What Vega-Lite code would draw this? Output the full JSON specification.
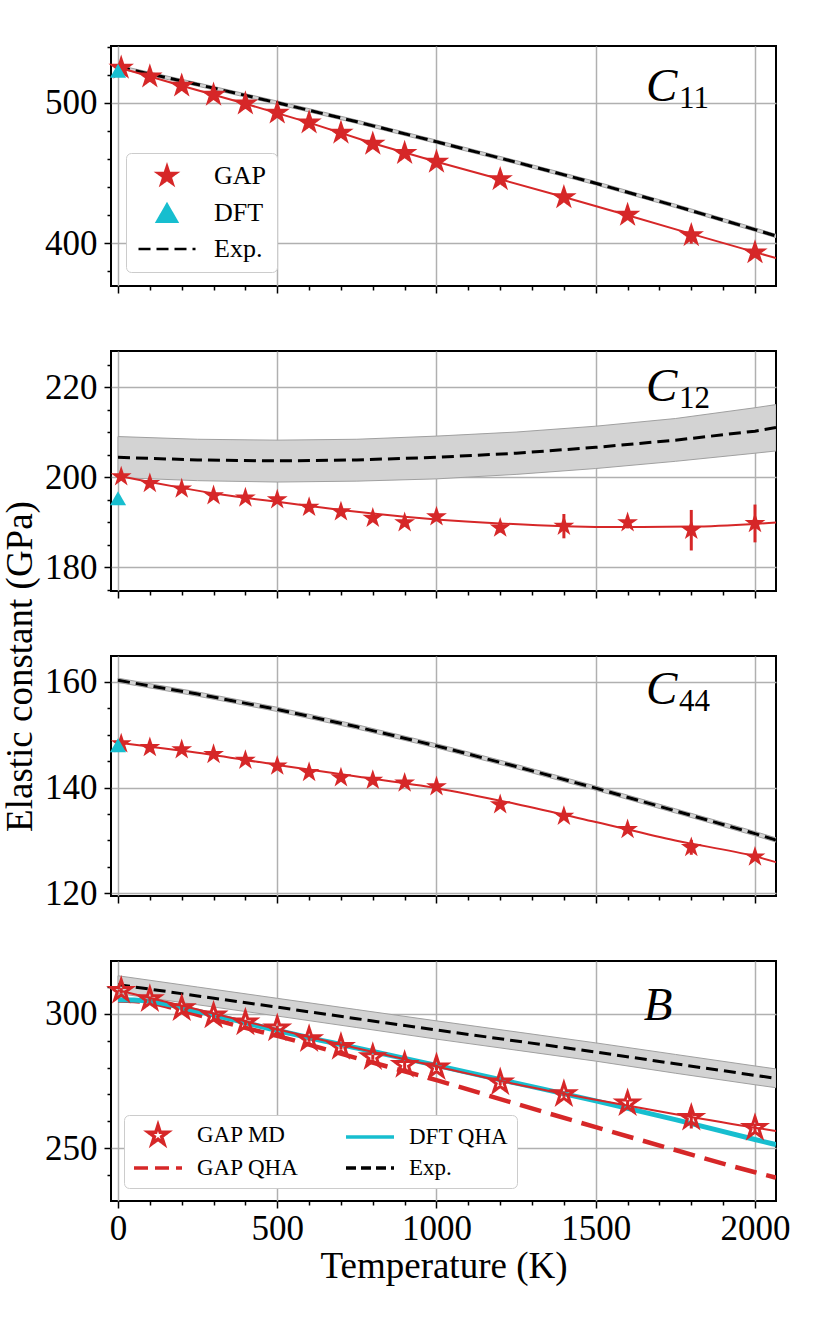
{
  "$schema": "https://vega.github.io/schema/vega-lite/v6.json",
  "background": "white",
  "padding": {"left": 0, "top": 45, "right": 30, "bottom": 20},
  "bounds": "flush",
  "spacing": 65,
  "resolve": {
    "scale": {"shape": "independent", "fill": "independent", "stroke": "independent", "strokeDash": "independent"},
    "legend": {"shape": "independent", "fill": "independent", "stroke": "independent", "strokeDash": "independent"}
  },
  "config": {
    "font": "Liberation Serif",
    "view": {"stroke": "black", "strokeWidth": 2},
    "axis": {
      "domain": false,
      "gridColor": "#b0b0b0",
      "gridWidth": 1.5,
      "gridOpacity": 1,
      "tickColor": "black",
      "tickWidth": 1.5,
      "labelFont": "Liberation Serif",
      "labelFontSize": 35,
      "labelColor": "black",
      "labelFlush": false,
      "labelOverlap": false,
      "titleFont": "Liberation Serif",
      "titleFontSize": 37,
      "titleFontWeight": "normal",
      "titleColor": "black"
    },
    "legend": {
      "labelFont": "Liberation Serif",
      "labelColor": "black",
      "fillColor": "white",
      "strokeColor": "#cccccc",
      "cornerRadius": 5
    }
  },
  "datasets": {
    "c11_gap": [
      {"T": 10, "v": 525.0, "lo": 523.8, "hi": 526.2, "s": "GAP"},
      {"T": 100, "v": 518.8, "lo": 517.6, "hi": 520.0, "s": "GAP"},
      {"T": 200, "v": 512.3, "lo": 511.1, "hi": 513.5, "s": "GAP"},
      {"T": 300, "v": 505.8, "lo": 504.6, "hi": 507.0, "s": "GAP"},
      {"T": 400, "v": 499.5, "lo": 498.3, "hi": 500.7, "s": "GAP"},
      {"T": 500, "v": 493.0, "lo": 491.8, "hi": 494.2, "s": "GAP"},
      {"T": 600, "v": 486.0, "lo": 484.8, "hi": 487.2, "s": "GAP"},
      {"T": 700, "v": 478.7, "lo": 477.5, "hi": 479.9, "s": "GAP"},
      {"T": 800, "v": 470.8, "lo": 469.4, "hi": 472.2, "s": "GAP"},
      {"T": 900, "v": 464.2, "lo": 462.8, "hi": 465.6, "s": "GAP"},
      {"T": 1000, "v": 457.9, "lo": 456.5, "hi": 459.3, "s": "GAP"},
      {"T": 1200, "v": 445.5, "lo": 444.0, "hi": 447.0, "s": "GAP"},
      {"T": 1400, "v": 432.6, "lo": 431.0, "hi": 434.2, "s": "GAP"},
      {"T": 1600, "v": 420.0, "lo": 418.0, "hi": 422.0, "s": "GAP"},
      {"T": 1800, "v": 405.5, "lo": 399.5, "hi": 411.5, "s": "GAP"},
      {"T": 2000, "v": 393.2, "lo": 391.2, "hi": 395.2, "s": "GAP"}
    ],
    "c11_fit": [
      {"T": 0, "v": 525.5}, {"T": 200, "v": 512.3}, {"T": 400, "v": 499.5},
      {"T": 600, "v": 486.0}, {"T": 800, "v": 471.3}, {"T": 1000, "v": 458.0},
      {"T": 1200, "v": 445.5}, {"T": 1400, "v": 432.8}, {"T": 1600, "v": 419.8},
      {"T": 1800, "v": 406.5}, {"T": 2000, "v": 393.5}, {"T": 2066, "v": 389.2}
    ],
    "c11_exp": [
      {"T": 0, "v": 525.8, "lo": 524.6, "hi": 527.0},
      {"T": 250, "v": 513.2, "lo": 512.0, "hi": 514.4},
      {"T": 500, "v": 500.2, "lo": 499.0, "hi": 501.4},
      {"T": 750, "v": 486.6, "lo": 485.4, "hi": 487.8},
      {"T": 1000, "v": 472.3, "lo": 471.1, "hi": 473.5},
      {"T": 1250, "v": 457.7, "lo": 456.5, "hi": 458.9},
      {"T": 1500, "v": 442.7, "lo": 441.5, "hi": 443.9},
      {"T": 1750, "v": 426.5, "lo": 425.3, "hi": 427.7},
      {"T": 2000, "v": 409.6, "lo": 408.4, "hi": 410.8},
      {"T": 2066, "v": 405.0, "lo": 403.8, "hi": 406.2}
    ],
    "c11_dft": [{"T": 0, "v": 523.0}],
    "c11_lab": [{"T": 1658, "v": 501.4, "main": "C", "sub": "11"}],
    "c12_gap": [
      {"T": 10, "v": 200.1, "lo": 199.5, "hi": 200.7, "s": "GAP"},
      {"T": 100, "v": 198.6, "lo": 198.0, "hi": 199.2, "s": "GAP"},
      {"T": 200, "v": 197.4, "lo": 196.8, "hi": 198.0, "s": "GAP"},
      {"T": 300, "v": 195.9, "lo": 195.3, "hi": 196.5, "s": "GAP"},
      {"T": 400, "v": 195.4, "lo": 194.8, "hi": 196.0, "s": "GAP"},
      {"T": 500, "v": 195.0, "lo": 194.2, "hi": 195.8, "s": "GAP"},
      {"T": 600, "v": 193.3, "lo": 192.5, "hi": 194.1, "s": "GAP"},
      {"T": 700, "v": 192.3, "lo": 191.5, "hi": 193.1, "s": "GAP"},
      {"T": 800, "v": 190.9, "lo": 190.1, "hi": 191.7, "s": "GAP"},
      {"T": 900, "v": 189.9, "lo": 189.1, "hi": 190.7, "s": "GAP"},
      {"T": 1000, "v": 191.2, "lo": 190.2, "hi": 192.2, "s": "GAP"},
      {"T": 1200, "v": 188.7, "lo": 187.7, "hi": 189.7, "s": "GAP"},
      {"T": 1400, "v": 189.1, "lo": 186.4, "hi": 191.8, "s": "GAP"},
      {"T": 1600, "v": 189.9, "lo": 188.6, "hi": 191.2, "s": "GAP"},
      {"T": 1800, "v": 188.2, "lo": 183.7, "hi": 192.7, "s": "GAP"},
      {"T": 2000, "v": 189.7, "lo": 185.5, "hi": 193.9, "s": "GAP"}
    ],
    "c12_fit": [
      {"T": 0, "v": 200.3}, {"T": 100, "v": 198.9}, {"T": 200, "v": 197.6},
      {"T": 300, "v": 196.4}, {"T": 400, "v": 195.4}, {"T": 500, "v": 194.5},
      {"T": 600, "v": 193.6}, {"T": 700, "v": 192.7}, {"T": 800, "v": 191.9},
      {"T": 900, "v": 191.2}, {"T": 1000, "v": 190.6}, {"T": 1200, "v": 189.7},
      {"T": 1400, "v": 189.1}, {"T": 1600, "v": 188.9}, {"T": 1800, "v": 189.0},
      {"T": 2000, "v": 189.6}, {"T": 2066, "v": 189.9}
    ],
    "c12_exp": [
      {"T": 0, "v": 204.4, "lo": 199.9, "hi": 209.0},
      {"T": 250, "v": 203.8, "lo": 199.2, "hi": 208.4},
      {"T": 500, "v": 203.6, "lo": 198.9, "hi": 208.2},
      {"T": 750, "v": 203.8, "lo": 199.1, "hi": 208.4},
      {"T": 1000, "v": 204.4, "lo": 199.6, "hi": 209.1},
      {"T": 1250, "v": 205.3, "lo": 200.6, "hi": 210.0},
      {"T": 1500, "v": 206.6, "lo": 201.9, "hi": 211.3},
      {"T": 1750, "v": 208.2, "lo": 203.5, "hi": 213.0},
      {"T": 2000, "v": 210.2, "lo": 205.3, "hi": 215.4},
      {"T": 2066, "v": 211.0, "lo": 205.8, "hi": 216.1}
    ],
    "c12_dft": [{"T": 0, "v": 195.3}],
    "c12_lab": [{"T": 1658, "v": 216.9, "main": "C", "sub": "12"}],
    "c44_gap": [
      {"T": 10, "v": 148.3, "lo": 147.8, "hi": 148.8, "s": "GAP"},
      {"T": 100, "v": 147.6, "lo": 147.1, "hi": 148.1, "s": "GAP"},
      {"T": 200, "v": 147.2, "lo": 146.7, "hi": 147.7, "s": "GAP"},
      {"T": 300, "v": 146.3, "lo": 145.8, "hi": 146.8, "s": "GAP"},
      {"T": 400, "v": 145.2, "lo": 144.7, "hi": 145.7, "s": "GAP"},
      {"T": 500, "v": 144.1, "lo": 143.6, "hi": 144.6, "s": "GAP"},
      {"T": 600, "v": 142.9, "lo": 142.4, "hi": 143.4, "s": "GAP"},
      {"T": 700, "v": 141.9, "lo": 141.4, "hi": 142.4, "s": "GAP"},
      {"T": 800, "v": 141.4, "lo": 140.9, "hi": 141.9, "s": "GAP"},
      {"T": 900, "v": 140.9, "lo": 140.2, "hi": 141.6, "s": "GAP"},
      {"T": 1000, "v": 140.2, "lo": 139.6, "hi": 140.8, "s": "GAP"},
      {"T": 1200, "v": 136.8, "lo": 136.2, "hi": 137.4, "s": "GAP"},
      {"T": 1400, "v": 134.6, "lo": 134.0, "hi": 135.2, "s": "GAP"},
      {"T": 1600, "v": 132.1, "lo": 131.5, "hi": 132.7, "s": "GAP"},
      {"T": 1800, "v": 128.7, "lo": 127.3, "hi": 130.1, "s": "GAP"},
      {"T": 2000, "v": 126.9, "lo": 126.2, "hi": 127.6, "s": "GAP"}
    ],
    "c44_fit": [
      {"T": 0, "v": 148.5}, {"T": 250, "v": 146.6}, {"T": 500, "v": 144.3},
      {"T": 750, "v": 142.1}, {"T": 1000, "v": 139.9}, {"T": 1250, "v": 136.9},
      {"T": 1500, "v": 133.5}, {"T": 1750, "v": 130.0}, {"T": 2000, "v": 127.0},
      {"T": 2066, "v": 125.9}
    ],
    "c44_exp": [
      {"T": 0, "v": 160.3, "lo": 159.9, "hi": 160.7},
      {"T": 250, "v": 157.7, "lo": 157.3, "hi": 158.1},
      {"T": 500, "v": 154.8, "lo": 154.4, "hi": 155.2},
      {"T": 750, "v": 151.5, "lo": 151.1, "hi": 151.9},
      {"T": 1000, "v": 147.9, "lo": 147.5, "hi": 148.3},
      {"T": 1250, "v": 144.0, "lo": 143.6, "hi": 144.4},
      {"T": 1500, "v": 139.9, "lo": 139.5, "hi": 140.3},
      {"T": 1750, "v": 135.6, "lo": 135.2, "hi": 136.0},
      {"T": 2000, "v": 131.3, "lo": 130.9, "hi": 131.7},
      {"T": 2066, "v": 130.1, "lo": 129.7, "hi": 130.5}
    ],
    "c44_dft": [{"T": 0, "v": 148.0}],
    "c44_lab": [{"T": 1658, "v": 155.8, "main": "C", "sub": "44"}],
    "b_md": [
      {"T": 10, "v": 308.6, "lo": 307.6, "hi": 309.6, "s": "GAP MD"},
      {"T": 100, "v": 305.5, "lo": 304.5, "hi": 306.5, "s": "GAP MD"},
      {"T": 200, "v": 302.1, "lo": 301.1, "hi": 303.1, "s": "GAP MD"},
      {"T": 300, "v": 299.4, "lo": 298.4, "hi": 300.4, "s": "GAP MD"},
      {"T": 400, "v": 296.8, "lo": 295.8, "hi": 297.8, "s": "GAP MD"},
      {"T": 500, "v": 294.6, "lo": 293.6, "hi": 295.6, "s": "GAP MD"},
      {"T": 600, "v": 290.6, "lo": 289.6, "hi": 291.6, "s": "GAP MD"},
      {"T": 700, "v": 287.7, "lo": 286.7, "hi": 288.7, "s": "GAP MD"},
      {"T": 800, "v": 283.9, "lo": 282.9, "hi": 284.9, "s": "GAP MD"},
      {"T": 900, "v": 281.0, "lo": 279.5, "hi": 282.5, "s": "GAP MD"},
      {"T": 1000, "v": 280.1, "lo": 279.1, "hi": 281.1, "s": "GAP MD"},
      {"T": 1200, "v": 274.5, "lo": 273.5, "hi": 275.5, "s": "GAP MD"},
      {"T": 1400, "v": 270.1, "lo": 269.1, "hi": 271.1, "s": "GAP MD"},
      {"T": 1600, "v": 266.7, "lo": 265.5, "hi": 267.9, "s": "GAP MD"},
      {"T": 1800, "v": 261.3, "lo": 257.3, "hi": 265.3, "s": "GAP MD"},
      {"T": 2000, "v": 257.5, "lo": 256.0, "hi": 259.0, "s": "GAP MD"}
    ],
    "b_mdfit": [
      {"T": 0, "v": 308.8}, {"T": 250, "v": 301.6}, {"T": 500, "v": 294.3},
      {"T": 750, "v": 287.2}, {"T": 1000, "v": 280.4}, {"T": 1250, "v": 273.8},
      {"T": 1500, "v": 268.0}, {"T": 1750, "v": 262.6}, {"T": 2000, "v": 257.6},
      {"T": 2066, "v": 256.4}
    ],
    "b_dftqha": [
      {"T": 0, "v": 305.3}, {"T": 50, "v": 305.2}, {"T": 100, "v": 304.7},
      {"T": 150, "v": 303.7}, {"T": 200, "v": 302.4}, {"T": 300, "v": 299.6},
      {"T": 400, "v": 296.7}, {"T": 500, "v": 293.8}, {"T": 750, "v": 287.3},
      {"T": 1000, "v": 280.8}, {"T": 1250, "v": 274.2}, {"T": 1500, "v": 267.6},
      {"T": 1750, "v": 260.6}, {"T": 2000, "v": 253.2}, {"T": 2066, "v": 251.3}
    ],
    "b_gapqha": [
      {"T": 0, "v": 305.0}, {"T": 50, "v": 304.8}, {"T": 100, "v": 304.1},
      {"T": 150, "v": 302.9}, {"T": 200, "v": 301.3}, {"T": 300, "v": 298.0},
      {"T": 400, "v": 294.8}, {"T": 500, "v": 291.8}, {"T": 750, "v": 283.5},
      {"T": 1000, "v": 275.3}, {"T": 1250, "v": 266.5}, {"T": 1500, "v": 257.8},
      {"T": 1750, "v": 249.3}, {"T": 2000, "v": 241.0}, {"T": 2066, "v": 239.0}
    ],
    "b_exp": [
      {"T": 0, "v": 310.9, "lo": 307.6, "hi": 314.2},
      {"T": 250, "v": 306.7, "lo": 303.4, "hi": 310.0},
      {"T": 500, "v": 302.5, "lo": 299.2, "hi": 305.8},
      {"T": 750, "v": 298.2, "lo": 294.9, "hi": 301.6},
      {"T": 1000, "v": 294.0, "lo": 290.6, "hi": 297.4},
      {"T": 1250, "v": 289.9, "lo": 286.5, "hi": 293.3},
      {"T": 1500, "v": 285.8, "lo": 282.4, "hi": 289.2},
      {"T": 1750, "v": 281.4, "lo": 277.9, "hi": 284.9},
      {"T": 2000, "v": 277.1, "lo": 273.6, "hi": 280.6},
      {"T": 2066, "v": 276.0, "lo": 272.5, "hi": 279.5}
    ],
    "b_lab": [{"T": 1651, "v": 297.9, "main": "B", "sub": ""}]
  },
  "vconcat": [
    {
      "width": 665,
      "height": 240,
      "layer": [
        {
          "data": {"name": "c11_exp"},
          "mark": {"type": "area", "fill": "#d3d3d3", "stroke": "#a0a0a0", "strokeWidth": 1, "clip": true},
          "encoding": {
            "x": {"field": "T", "type": "quantitative", "scale": {"domain": [-22, 2066], "nice": false, "zero": false},
                  "axis": {"orient": "bottom", "values": [0, 500, 1000, 1500, 2000], "grid": true, "labels": false, "tickSize": 7, "title": null}},
            "y": {"field": "lo", "type": "quantitative", "scale": {"domain": [369.3, 540.7], "nice": false, "zero": false},
                  "axis": {"orient": "left", "values": [400, 500], "grid": true, "tickSize": 7, "labelPadding": 7, "format": "d", "title": null}},
            "y2": {"field": "hi"}
          }
        },
        {
          "data": {"name": "c11_exp"},
          "mark": {"type": "line", "color": "black", "strokeWidth": 3, "strokeDash": [12, 6], "clip": true},
          "encoding": {
            "x": {"field": "T", "type": "quantitative",
                  "axis": {"orient": "bottom", "values": [100, 200, 300, 400, 600, 700, 800, 900, 1100, 1200, 1300, 1400, 1600, 1700, 1800, 1900], "grid": false, "labels": false, "tickSize": 4, "title": null}},
            "y": {"field": "v", "type": "quantitative",
                  "axis": {"orient": "left", "values": [380, 420, 440, 460, 480, 520, 540], "grid": false, "labels": false, "tickSize": 4, "title": null}}
          }
        },
        {
          "data": {"name": "c11_fit"},
          "mark": {"type": "line", "color": "#d62728", "strokeWidth": 2, "clip": true},
          "encoding": {
            "x": {"field": "T", "type": "quantitative", "axis": null},
            "y": {"field": "v", "type": "quantitative", "axis": null}
          }
        },
        {
          "data": {"name": "c11_gap"},
          "mark": {"type": "rule", "color": "#d62728", "strokeWidth": 3},
          "encoding": {
            "x": {"field": "T", "type": "quantitative", "axis": null},
            "y": {"field": "lo", "type": "quantitative", "axis": null},
            "y2": {"field": "hi"}
          }
        },
        {
          "data": {"name": "c11_gap"},
          "mark": {"type": "point", "filled": true, "size": 480, "opacity": 1, "strokeWidth": 1.5},
          "encoding": {
            "x": {"field": "T", "type": "quantitative", "axis": null},
            "y": {"field": "v", "type": "quantitative", "axis": null},
            "shape": {"field": "s", "type": "nominal",
              "scale": {"domain": ["GAP", "DFT", "Exp."], "range": ["M0,-1L0.225,-0.309L0.951,-0.309L0.363,0.118L0.588,0.809L0,0.382L-0.588,0.809L-0.363,0.118L-0.951,-0.309L-0.225,-0.309Z", "triangle-up", "M-2.85,0H2.85"]},
              "legend": {"title": null, "orient": "none", "legendX": 15, "legendY": 107, "padding": 10, "labelFontSize": 26, "labelOffset": 34, "symbolOffset": 18, "rowPadding": 9, "symbolSize": 400, "symbolStrokeWidth": 2.5}},
            "fill": {"field": "s", "type": "nominal",
              "scale": {"domain": ["GAP", "DFT", "Exp."], "range": ["#d62728", "#17becf", "transparent"]},
              "legend": {"title": null, "orient": "none", "legendX": 15, "legendY": 107, "padding": 10, "labelFontSize": 26, "labelOffset": 34, "symbolOffset": 18, "rowPadding": 9, "symbolSize": 400, "symbolStrokeWidth": 2.5}},
            "stroke": {"field": "s", "type": "nominal",
              "scale": {"domain": ["GAP", "DFT", "Exp."], "range": ["#d62728", "#17becf", "black"]},
              "legend": {"title": null, "orient": "none", "legendX": 15, "legendY": 107, "padding": 10, "labelFontSize": 26, "labelOffset": 34, "symbolOffset": 18, "rowPadding": 9, "symbolSize": 400, "symbolStrokeWidth": 2.5}},
            "strokeDash": {"field": "s", "type": "nominal",
              "scale": {"domain": ["GAP", "DFT", "Exp."], "range": [[1, 0], [1, 0], [12, 6]]},
              "legend": {"title": null, "orient": "none", "legendX": 15, "legendY": 107, "padding": 10, "labelFontSize": 26, "labelOffset": 34, "symbolOffset": 18, "rowPadding": 9, "symbolSize": 400, "symbolStrokeWidth": 2.5}}
          }
        },
        {
          "data": {"name": "c11_dft"},
          "mark": {"type": "point", "shape": "triangle-up", "filled": true, "color": "#17becf", "size": 260, "opacity": 1},
          "encoding": {
            "x": {"field": "T", "type": "quantitative", "axis": null},
            "y": {"field": "v", "type": "quantitative", "axis": null}
          }
        },
        {
          "data": {"name": "c11_lab"},
          "mark": {"type": "text", "align": "left", "baseline": "alphabetic", "fontSize": 47, "fontStyle": "italic", "font": "Liberation Serif", "color": "black"},
          "encoding": {
            "x": {"field": "T", "type": "quantitative", "axis": null},
            "y": {"field": "v", "type": "quantitative", "axis": null},
            "text": {"field": "main"}
          }
        },
        {
          "data": {"name": "c11_lab"},
          "mark": {"type": "text", "align": "left", "baseline": "alphabetic", "fontSize": 31, "font": "Liberation Serif", "color": "black", "dx": 33, "dy": 7},
          "encoding": {
            "x": {"field": "T", "type": "quantitative", "axis": null},
            "y": {"field": "v", "type": "quantitative", "axis": null},
            "text": {"field": "sub"}
          }
        }
      ],
      "resolve": {"axis": {"x": "independent", "y": "independent"}}
    },
    {
      "width": 665,
      "height": 240,
      "layer": [
        {
          "data": {"name": "c12_exp"},
          "mark": {"type": "area", "fill": "#d3d3d3", "stroke": "#a0a0a0", "strokeWidth": 1, "clip": true},
          "encoding": {
            "x": {"field": "T", "type": "quantitative", "scale": {"domain": [-22, 2066], "nice": false, "zero": false},
                  "axis": {"orient": "bottom", "values": [0, 500, 1000, 1500, 2000], "grid": true, "labels": false, "tickSize": 7, "title": null}},
            "y": {"field": "lo", "type": "quantitative", "scale": {"domain": [174.7, 228], "nice": false, "zero": false},
                  "axis": {"orient": "left", "values": [180, 200, 220], "grid": true, "tickSize": 7, "labelPadding": 7, "format": "d",
                           "title": "Elastic constant (GPa)", "titleY": 315, "titlePadding": 5}},
            "y2": {"field": "hi"}
          }
        },
        {
          "data": {"name": "c12_exp"},
          "mark": {"type": "line", "color": "black", "strokeWidth": 3, "strokeDash": [12, 6], "clip": true},
          "encoding": {
            "x": {"field": "T", "type": "quantitative",
                  "axis": {"orient": "bottom", "values": [100, 200, 300, 400, 600, 700, 800, 900, 1100, 1200, 1300, 1400, 1600, 1700, 1800, 1900], "grid": false, "labels": false, "tickSize": 4, "title": null}},
            "y": {"field": "v", "type": "quantitative",
                  "axis": {"orient": "left", "values": [175, 185, 190, 195, 205, 210, 215, 225], "grid": false, "labels": false, "tickSize": 4, "title": null}}
          }
        },
        {
          "data": {"name": "c12_fit"},
          "mark": {"type": "line", "color": "#d62728", "strokeWidth": 2, "clip": true, "interpolate": "monotone"},
          "encoding": {
            "x": {"field": "T", "type": "quantitative", "axis": null},
            "y": {"field": "v", "type": "quantitative", "axis": null}
          }
        },
        {
          "data": {"name": "c12_gap"},
          "mark": {"type": "rule", "color": "#d62728", "strokeWidth": 3},
          "encoding": {
            "x": {"field": "T", "type": "quantitative", "axis": null},
            "y": {"field": "lo", "type": "quantitative", "axis": null},
            "y2": {"field": "hi"}
          }
        },
        {
          "data": {"name": "c12_gap"},
          "mark": {"type": "point", "filled": true, "size": 480, "opacity": 1, "color": "#d62728", "strokeWidth": 1.5,
                   "shape": "M0,-1L0.225,-0.309L0.951,-0.309L0.363,0.118L0.588,0.809L0,0.382L-0.588,0.809L-0.363,0.118L-0.951,-0.309L-0.225,-0.309Z"},
          "encoding": {
            "x": {"field": "T", "type": "quantitative", "axis": null},
            "y": {"field": "v", "type": "quantitative", "axis": null}
          }
        },
        {
          "data": {"name": "c12_dft"},
          "mark": {"type": "point", "shape": "triangle-up", "filled": true, "color": "#17becf", "size": 260, "opacity": 1},
          "encoding": {
            "x": {"field": "T", "type": "quantitative", "axis": null},
            "y": {"field": "v", "type": "quantitative", "axis": null}
          }
        },
        {
          "data": {"name": "c12_lab"},
          "mark": {"type": "text", "align": "left", "baseline": "alphabetic", "fontSize": 47, "fontStyle": "italic", "font": "Liberation Serif", "color": "black"},
          "encoding": {
            "x": {"field": "T", "type": "quantitative", "axis": null},
            "y": {"field": "v", "type": "quantitative", "axis": null},
            "text": {"field": "main"}
          }
        },
        {
          "data": {"name": "c12_lab"},
          "mark": {"type": "text", "align": "left", "baseline": "alphabetic", "fontSize": 31, "font": "Liberation Serif", "color": "black", "dx": 33, "dy": 7},
          "encoding": {
            "x": {"field": "T", "type": "quantitative", "axis": null},
            "y": {"field": "v", "type": "quantitative", "axis": null},
            "text": {"field": "sub"}
          }
        }
      ],
      "resolve": {"axis": {"x": "independent", "y": "independent"}}
    },
    {
      "width": 665,
      "height": 240,
      "layer": [
        {
          "data": {"name": "c44_exp"},
          "mark": {"type": "area", "fill": "#d3d3d3", "stroke": "#a0a0a0", "strokeWidth": 1, "clip": true},
          "encoding": {
            "x": {"field": "T", "type": "quantitative", "scale": {"domain": [-22, 2066], "nice": false, "zero": false},
                  "axis": {"orient": "bottom", "values": [0, 500, 1000, 1500, 2000], "grid": true, "labels": false, "tickSize": 7, "title": null}},
            "y": {"field": "lo", "type": "quantitative", "scale": {"domain": [119.5, 164.9], "nice": false, "zero": false},
                  "axis": {"orient": "left", "values": [120, 140, 160], "grid": true, "tickSize": 7, "labelPadding": 7, "format": "d", "title": null}},
            "y2": {"field": "hi"}
          }
        },
        {
          "data": {"name": "c44_exp"},
          "mark": {"type": "line", "color": "black", "strokeWidth": 3, "strokeDash": [12, 6], "clip": true},
          "encoding": {
            "x": {"field": "T", "type": "quantitative",
                  "axis": {"orient": "bottom", "values": [100, 200, 300, 400, 600, 700, 800, 900, 1100, 1200, 1300, 1400, 1600, 1700, 1800, 1900], "grid": false, "labels": false, "tickSize": 4, "title": null}},
            "y": {"field": "v", "type": "quantitative",
                  "axis": {"orient": "left", "values": [125, 130, 135, 145, 150, 155], "grid": false, "labels": false, "tickSize": 4, "title": null}}
          }
        },
        {
          "data": {"name": "c44_fit"},
          "mark": {"type": "line", "color": "#d62728", "strokeWidth": 2, "clip": true, "interpolate": "monotone"},
          "encoding": {
            "x": {"field": "T", "type": "quantitative", "axis": null},
            "y": {"field": "v", "type": "quantitative", "axis": null}
          }
        },
        {
          "data": {"name": "c44_gap"},
          "mark": {"type": "rule", "color": "#d62728", "strokeWidth": 3},
          "encoding": {
            "x": {"field": "T", "type": "quantitative", "axis": null},
            "y": {"field": "lo", "type": "quantitative", "axis": null},
            "y2": {"field": "hi"}
          }
        },
        {
          "data": {"name": "c44_gap"},
          "mark": {"type": "point", "filled": true, "size": 480, "opacity": 1, "color": "#d62728", "strokeWidth": 1.5,
                   "shape": "M0,-1L0.225,-0.309L0.951,-0.309L0.363,0.118L0.588,0.809L0,0.382L-0.588,0.809L-0.363,0.118L-0.951,-0.309L-0.225,-0.309Z"},
          "encoding": {
            "x": {"field": "T", "type": "quantitative", "axis": null},
            "y": {"field": "v", "type": "quantitative", "axis": null}
          }
        },
        {
          "data": {"name": "c44_dft"},
          "mark": {"type": "point", "shape": "triangle-up", "filled": true, "color": "#17becf", "size": 260, "opacity": 1},
          "encoding": {
            "x": {"field": "T", "type": "quantitative", "axis": null},
            "y": {"field": "v", "type": "quantitative", "axis": null}
          }
        },
        {
          "data": {"name": "c44_lab"},
          "mark": {"type": "text", "align": "left", "baseline": "alphabetic", "fontSize": 47, "fontStyle": "italic", "font": "Liberation Serif", "color": "black"},
          "encoding": {
            "x": {"field": "T", "type": "quantitative", "axis": null},
            "y": {"field": "v", "type": "quantitative", "axis": null},
            "text": {"field": "main"}
          }
        },
        {
          "data": {"name": "c44_lab"},
          "mark": {"type": "text", "align": "left", "baseline": "alphabetic", "fontSize": 31, "font": "Liberation Serif", "color": "black", "dx": 33, "dy": 7},
          "encoding": {
            "x": {"field": "T", "type": "quantitative", "axis": null},
            "y": {"field": "v", "type": "quantitative", "axis": null},
            "text": {"field": "sub"}
          }
        }
      ],
      "resolve": {"axis": {"x": "independent", "y": "independent"}}
    },
    {
      "width": 665,
      "height": 240,
      "layer": [
        {
          "data": {"name": "b_exp"},
          "mark": {"type": "area", "fill": "#d3d3d3", "stroke": "#a0a0a0", "strokeWidth": 1, "clip": true},
          "encoding": {
            "x": {"field": "T", "type": "quantitative", "scale": {"domain": [-22, 2066], "nice": false, "zero": false},
                  "axis": {"orient": "bottom", "values": [0, 500, 1000, 1500, 2000], "grid": true, "labels": true, "tickSize": 7, "labelPadding": 3, "format": "d",
                           "title": "Temperature (K)", "titlePadding": 2}},
            "y": {"field": "lo", "type": "quantitative", "scale": {"domain": [230.3, 319.7], "nice": false, "zero": false},
                  "axis": {"orient": "left", "values": [250, 300], "grid": true, "tickSize": 7, "labelPadding": 7, "format": "d", "title": null}},
            "y2": {"field": "hi"}
          }
        },
        {
          "data": {"name": "b_exp"},
          "mark": {"type": "line", "color": "black", "strokeWidth": 3, "strokeDash": [12, 6], "clip": true},
          "encoding": {
            "x": {"field": "T", "type": "quantitative",
                  "axis": {"orient": "bottom", "values": [100, 200, 300, 400, 600, 700, 800, 900, 1100, 1200, 1300, 1400, 1600, 1700, 1800, 1900], "grid": false, "labels": false, "tickSize": 4, "title": null}},
            "y": {"field": "v", "type": "quantitative",
                  "axis": {"orient": "left", "values": [240, 260, 270, 280, 290, 310], "grid": false, "labels": false, "tickSize": 4, "title": null}}
          }
        },
        {
          "data": {"name": "b_gapqha"},
          "mark": {"type": "line", "color": "#d62728", "strokeWidth": 4.5, "strokeDash": [22, 10], "clip": true, "interpolate": "monotone"},
          "encoding": {
            "x": {"field": "T", "type": "quantitative", "axis": null},
            "y": {"field": "v", "type": "quantitative", "axis": null}
          }
        },
        {
          "data": {"name": "b_dftqha"},
          "mark": {"type": "line", "color": "#17becf", "strokeWidth": 5, "clip": true, "interpolate": "monotone"},
          "encoding": {
            "x": {"field": "T", "type": "quantitative", "axis": null},
            "y": {"field": "v", "type": "quantitative", "axis": null}
          }
        },
        {
          "data": {"name": "b_mdfit"},
          "mark": {"type": "line", "color": "#d62728", "strokeWidth": 2, "clip": true, "interpolate": "monotone"},
          "encoding": {
            "x": {"field": "T", "type": "quantitative", "axis": null},
            "y": {"field": "v", "type": "quantitative", "axis": null}
          }
        },
        {
          "data": {"name": "b_md"},
          "mark": {"type": "rule", "color": "#d62728", "strokeWidth": 3},
          "encoding": {
            "x": {"field": "T", "type": "quantitative", "axis": null},
            "y": {"field": "lo", "type": "quantitative", "axis": null},
            "y2": {"field": "hi"}
          }
        },
        {
          "data": {"name": "b_md"},
          "mark": {"type": "point", "filled": true, "size": 480, "opacity": 1, "strokeWidth": 3},
          "encoding": {
            "x": {"field": "T", "type": "quantitative", "axis": null},
            "y": {"field": "v", "type": "quantitative", "axis": null},
            "shape": {"field": "s", "type": "nominal",
              "scale": {"domain": ["GAP MD", "GAP QHA", "DFT QHA", "Exp."], "range": ["M0,-1L0.225,-0.309L0.951,-0.309L0.363,0.118L0.588,0.809L0,0.382L-0.588,0.809L-0.363,0.118L-0.951,-0.309L-0.225,-0.309Z", "M-2.4,0H2.4", "M-2.4,0H2.4", "M-2.4,0H2.4"]},
              "legend": {"title": null, "orient": "none", "legendX": 13, "legendY": 154, "padding": 8, "labelFontSize": 23, "labelOffset": 27, "symbolOffset": 14, "rowPadding": 5, "columns": 2, "columnPadding": 40, "symbolSize": 400, "symbolStrokeWidth": 3.5}},
            "fill": {"field": "s", "type": "nominal",
              "scale": {"domain": ["GAP MD", "GAP QHA", "DFT QHA", "Exp."], "range": ["transparent", "transparent", "transparent", "transparent"]},
              "legend": {"title": null, "orient": "none", "legendX": 13, "legendY": 154, "padding": 8, "labelFontSize": 23, "labelOffset": 27, "symbolOffset": 14, "rowPadding": 5, "columns": 2, "columnPadding": 40, "symbolSize": 400, "symbolStrokeWidth": 3.5}},
            "stroke": {"field": "s", "type": "nominal",
              "scale": {"domain": ["GAP MD", "GAP QHA", "DFT QHA", "Exp."], "range": ["#d62728", "#d62728", "#17becf", "black"]},
              "legend": {"title": null, "orient": "none", "legendX": 13, "legendY": 154, "padding": 8, "labelFontSize": 23, "labelOffset": 27, "symbolOffset": 14, "rowPadding": 5, "columns": 2, "columnPadding": 40, "symbolSize": 400, "symbolStrokeWidth": 3.5}},
            "strokeDash": {"field": "s", "type": "nominal",
              "scale": {"domain": ["GAP MD", "GAP QHA", "DFT QHA", "Exp."], "range": [[1, 0], [14, 7], [1, 0], [10, 5]]},
              "legend": {"title": null, "orient": "none", "legendX": 13, "legendY": 154, "padding": 8, "labelFontSize": 23, "labelOffset": 27, "symbolOffset": 14, "rowPadding": 5, "columns": 2, "columnPadding": 40, "symbolSize": 400, "symbolStrokeWidth": 3.5}}
          }
        },
        {
          "data": {"name": "b_lab"},
          "mark": {"type": "text", "align": "left", "baseline": "alphabetic", "fontSize": 47, "fontStyle": "italic", "font": "Liberation Serif", "color": "black"},
          "encoding": {
            "x": {"field": "T", "type": "quantitative", "axis": null},
            "y": {"field": "v", "type": "quantitative", "axis": null},
            "text": {"field": "main"}
          }
        }
      ],
      "resolve": {"axis": {"x": "independent", "y": "independent"}}
    }
  ]
}
